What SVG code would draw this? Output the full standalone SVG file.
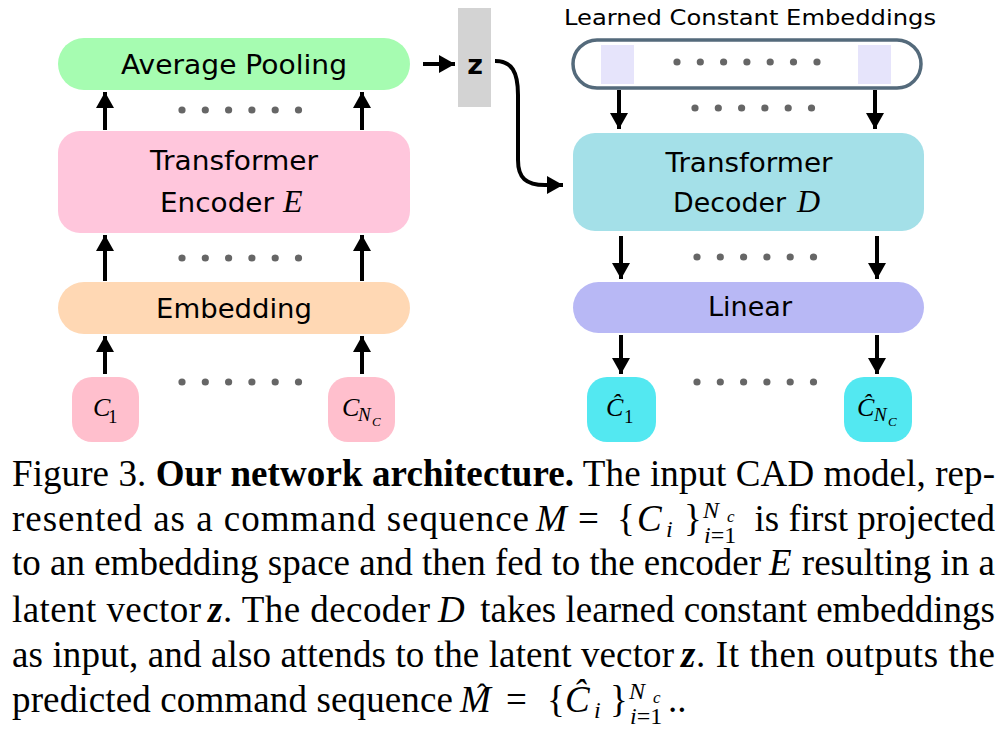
<svg xmlns="http://www.w3.org/2000/svg" width="1006" height="742" viewBox="0 0 1006 742">
<style>
.lbl{font-family:"DejaVu Sans","Liberation Sans",Arial,sans-serif;font-size:26px;fill:#000;text-anchor:middle}
.lbs{font-family:"DejaVu Sans","Liberation Sans",Arial,sans-serif;font-size:26px;fill:#000}
.mi{font-family:"Liberation Serif","Times New Roman",serif;font-style:italic}
.sf{font-family:"Liberation Serif","Times New Roman",serif}
.cap{font-family:"Liberation Serif","Times New Roman",serif;font-size:37px;fill:#000}
.sub{font-size:24px}
.sub2{font-size:17px}
.sh{stroke:#000;stroke-width:4;fill:none}
.dot{fill:#666}
</style>
<defs>
<marker id="ah" viewBox="0 0 16 18" refX="16" refY="9" markerWidth="16" markerHeight="18" markerUnits="userSpaceOnUse" orient="auto">
<path d="M0,0 L16,9 L0,18 Z" fill="#000"/>
</marker>
<g id="dots6">
<circle cx="0" cy="0" r="3.6" class="dot"/><circle cx="23.3" cy="0" r="3.6" class="dot"/><circle cx="46.6" cy="0" r="3.6" class="dot"/><circle cx="69.9" cy="0" r="3.6" class="dot"/><circle cx="93.2" cy="0" r="3.6" class="dot"/><circle cx="116.5" cy="0" r="3.6" class="dot"/>
</g>
</defs>
<rect width="1006" height="742" fill="#fff"/>

<g id="avgpool">
<rect x="58" y="38" width="352" height="52" rx="26" fill="#a6fcb1"/>
<text x="234" y="74" class="lbl" textLength="226" lengthAdjust="spacingAndGlyphs">Average Pooling</text>
</g>
<g id="encoder">
<rect x="58" y="131" width="352" height="102" rx="22" fill="#ffc6dc"/>
<text x="234" y="170" class="lbl" textLength="168" lengthAdjust="spacingAndGlyphs">Transformer</text>
<text x="160" y="212" class="lbs" textLength="114" lengthAdjust="spacingAndGlyphs">Encoder</text>
<text x="283" y="212" class="mi" font-size="32">E</text>
</g>
<g id="embedding">
<rect x="58" y="282" width="352" height="52" rx="26" fill="#ffd8b4"/>
<text x="234" y="318" class="lbl" textLength="156" lengthAdjust="spacingAndGlyphs">Embedding</text>
</g>
<g id="c1">
<rect x="72" y="377" width="67" height="65" rx="20" fill="#ffbfcd"/>
<text x="93" y="416" class="mi" font-size="26">C</text>
<text x="108" y="423" class="sf" font-size="19">1</text>
</g>
<g id="cnc">
<rect x="328" y="377" width="67" height="65" rx="20" fill="#ffbfcd"/>
<text x="342" y="416" class="mi" font-size="26">C</text>
<text x="358" y="421" class="mi" font-size="19">N</text>
<text x="372" y="426" class="mi" font-size="13">C</text>
</g>

<g id="zbox">
<rect x="458" y="8" width="33" height="99" fill="#d3d3d3"/>
<text x="475" y="74" font-family="DejaVu Sans,Liberation Sans,sans-serif" font-weight="bold" font-size="27" text-anchor="middle">z</text>
</g>

<g id="constemb">
<text x="750" y="25" font-family="DejaVu Sans,Liberation Sans,sans-serif" font-size="22" text-anchor="middle" textLength="372" lengthAdjust="spacingAndGlyphs">Learned Constant Embeddings</text>
<rect x="573" y="40" width="348" height="48" rx="24" fill="#fff" stroke="#546a7b" stroke-width="3.5"/>
<rect x="601" y="45" width="33" height="39" fill="#e6e4fb"/>
<rect x="858" y="45" width="33" height="39" fill="#e6e4fb"/>
<use href="#dots6" x="677" y="62"/>
<circle cx="817" cy="62" r="3.6" class="dot"/>
</g>
<g id="decoder">
<rect x="573" y="133" width="351" height="98" rx="22" fill="#a4e0e8"/>
<text x="749" y="172" class="lbl" textLength="167" lengthAdjust="spacingAndGlyphs">Transformer</text>
<text x="673" y="212" class="lbs" textLength="113" lengthAdjust="spacingAndGlyphs">Decoder</text>
<text x="797" y="212" class="mi" font-size="32">D</text>
</g>
<g id="linear">
<rect x="573" y="282" width="351" height="51" rx="25.5" fill="#b8b8f5"/>
<text x="750" y="316" class="lbl" textLength="84" lengthAdjust="spacingAndGlyphs">Linear</text>
</g>
<g id="chat1">
<rect x="587" y="377" width="69" height="65" rx="20" fill="#53e8f1"/>
<text x="606" y="416" class="mi" font-size="26">Ĉ</text>
<text x="624" y="423" class="sf" font-size="19">1</text>
</g>
<g id="chatnc">
<rect x="844" y="377" width="68" height="65" rx="20" fill="#53e8f1"/>
<text x="857" y="416" class="mi" font-size="26">Ĉ</text>
<text x="874" y="421" class="mi" font-size="19">N</text>
<text x="888" y="426" class="mi" font-size="13">C</text>
</g>

<g id="connectors">
<line x1="105" y1="130" x2="105" y2="92" class="sh" marker-end="url(#ah)"/>
<line x1="362" y1="130" x2="362" y2="92" class="sh" marker-end="url(#ah)"/>
<line x1="105" y1="281" x2="105" y2="235" class="sh" marker-end="url(#ah)"/>
<line x1="362" y1="281" x2="362" y2="235" class="sh" marker-end="url(#ah)"/>
<line x1="105" y1="374" x2="105" y2="336" class="sh" marker-end="url(#ah)"/>
<line x1="362" y1="374" x2="362" y2="336" class="sh" marker-end="url(#ah)"/>
<line x1="423" y1="64" x2="455" y2="64" class="sh" marker-end="url(#ah)"/>
<path d="M495,61 C512,61 518,72 518,95 L518,160 C518,178 526,185 545,185 L563,185" class="sh" marker-end="url(#ah)"/>
<line x1="619" y1="90" x2="619" y2="129" class="sh" marker-end="url(#ah)"/>
<line x1="875" y1="90" x2="875" y2="129" class="sh" marker-end="url(#ah)"/>
<line x1="621" y1="236" x2="621" y2="279" class="sh" marker-end="url(#ah)"/>
<line x1="877" y1="236" x2="877" y2="279" class="sh" marker-end="url(#ah)"/>
<line x1="621" y1="335" x2="621" y2="374" class="sh" marker-end="url(#ah)"/>
<line x1="877" y1="335" x2="877" y2="374" class="sh" marker-end="url(#ah)"/>
</g>

<g id="ellipses">
<use href="#dots6" x="182" y="110"/>
<use href="#dots6" x="182" y="258"/>
<use href="#dots6" x="182" y="382"/>
<use href="#dots6" x="695" y="108"/>
<use href="#dots6" x="697" y="257"/>
<use href="#dots6" x="697" y="382"/>
</g>

<g id="caption">
<text x="12" y="486" class="cap" textLength="983" lengthAdjust="spacing">Figure 3. <tspan font-weight="bold">Our network architecture.</tspan> The input CAD model, rep-</text>

<text x="12" y="531" class="cap" textLength="517" lengthAdjust="spacing">resented as a command sequence</text>
<text x="536" y="531" class="cap mi">M</text>
<text x="578" y="531" class="cap">=</text>
<text x="617" y="531" class="cap">{</text>
<text x="637" y="531" class="cap mi">C</text>
<text x="666" y="537" class="cap mi sub">i</text>
<text x="684" y="531" class="cap">}</text>
<text x="703" y="518" class="cap mi sub">N</text>
<text x="727" y="522" class="cap mi sub2">c</text>
<text x="704" y="543" class="cap sub"><tspan class="mi">i</tspan>=1</text>
<text x="995" y="531" class="cap" text-anchor="end">is first projected</text>

<text x="12" y="575" class="cap">to an embedding space and then fed to the encoder</text>
<text x="769" y="575" class="cap mi">E</text>
<text x="995" y="575" class="cap" text-anchor="end">resulting in a</text>

<text x="12" y="622" class="cap" textLength="189" lengthAdjust="spacing">latent vector</text>
<text x="208" y="622" class="cap mi" font-weight="bold">z</text>
<text x="223" y="622" class="cap" textLength="207" lengthAdjust="spacing">. The decoder</text>
<text x="438" y="622" class="cap mi">D</text>
<text x="995" y="622" class="cap" text-anchor="end">takes learned constant embeddings</text>

<text x="12" y="667" class="cap" textLength="662" lengthAdjust="spacing">as input, and also attends to the latent vector</text>
<text x="681" y="667" class="cap mi" font-weight="bold">z</text>
<text x="995" y="667" class="cap" text-anchor="end" textLength="299" lengthAdjust="spacing">. It then outputs the</text>

<text x="12" y="712" class="cap" textLength="441" lengthAdjust="spacing">predicted command sequence</text>
<text x="460" y="712" class="cap mi">M</text>
<text x="477" y="704" class="cap" style="font-size:30px">ˆ</text>
<text x="506" y="712" class="cap">=</text>
<text x="547" y="712" class="cap">{</text>
<text x="565" y="712" class="cap mi">Ĉ</text>
<text x="594" y="718" class="cap mi sub">i</text>
<text x="610" y="712" class="cap">}</text>
<text x="629" y="699" class="cap mi sub">N</text>
<text x="653" y="703" class="cap mi sub2">c</text>
<text x="630" y="724" class="cap sub"><tspan class="mi">i</tspan>=1</text>
<text x="668" y="712" class="cap">..</text>
</g>
</svg>
